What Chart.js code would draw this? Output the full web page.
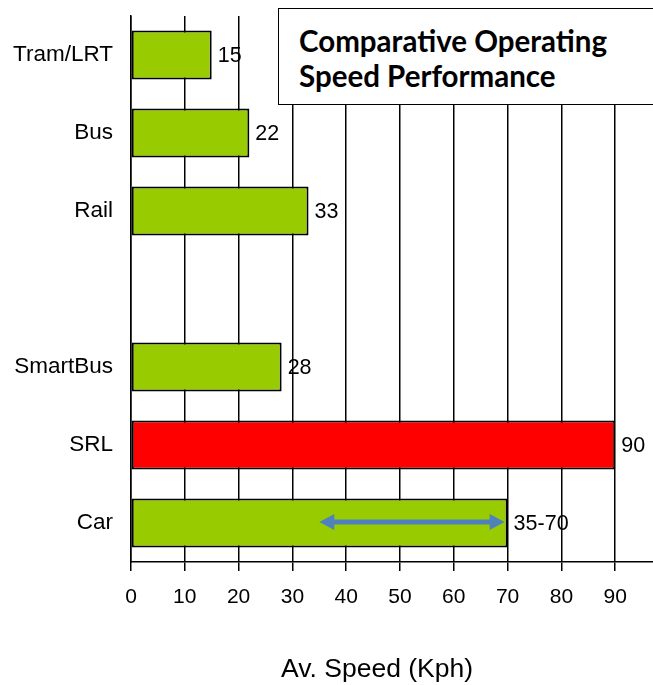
<!DOCTYPE html>
<html>
<head>
<meta charset="utf-8">
<script src="https://cdn.jsdelivr.net/npm/chart.js@4"></script>
<style>
  html, body { margin:0; padding:0; background:#fff; overflow:hidden; width:653px; height:685px; }
  #wrap { position:relative; width:670px; height:685px; }
  #c { position:absolute; left:0; top:0; }
  #titleBox {
    position:absolute; left:278px; top:8px; width:420px; height:97px;
    border:1.5px solid #000; background:#fff; box-sizing:border-box;
    font-family: Lato, "Open Sans", sans-serif; font-weight:bold; font-size:29.5px;
    line-height:35px; color:#000; padding:14px 0 0 20px;
  }
</style>
</head>
<body>
<div id="wrap">
  <canvas id="c" width="670" height="685"></canvas>
  <div id="titleBox">Comparative Operating<br>Speed Performance</div>
</div>
<script>
const categories = ["Tram/LRT", "Bus", "Rail", "", "SmartBus", "SRL", "Car"];
const speeds = [15, 22, 33, null, 28, 90, 70];
const valueLabels = ["15", "22", "33", "", "28", "90", "35-70"];
const barColors = ["#99CC00", "#99CC00", "#99CC00", "#99CC00", "#99CC00", "#FF0000", "#99CC00"];
const carRange = [35, 70];
const carIndex = 6;
const xTicks = [0, 10, 20, 30, 40, 50, 60, 70, 80, 90];
const axisTitle = "Av. Speed (Kph)";

const FONT = "'Liberation Sans', Arial, sans-serif";

const labelPlugin = {
  id: 'valueLabels',
  afterDatasetsDraw(chart) {
    const ctx = chart.ctx;
    const meta = chart.getDatasetMeta(0);
    ctx.save();
    ctx.font = "21.5px " + FONT;
    ctx.fillStyle = "#000";
    ctx.textAlign = "left";
    ctx.textBaseline = "middle";
    meta.data.forEach((bar, i) => {
      if (speeds[i] == null) return;
      ctx.fillText(valueLabels[i], bar.x + 6, bar.y + 1);
    });
    // range arrow on Car bar
    const xs = chart.scales.x;
    const y = meta.data[carIndex].y - 1;
    const x1 = xs.getPixelForValue(carRange[0]);
    const x2 = xs.getPixelForValue(carRange[1]) - 3;
    const head = 15, half = 8;
    ctx.fillStyle = "#4F81BD";
    ctx.strokeStyle = "#4F81BD";
    ctx.lineWidth = 5;
    ctx.beginPath();
    ctx.moveTo(x1 + head - 2, y);
    ctx.lineTo(x2 - head + 2, y);
    ctx.stroke();
    ctx.beginPath();
    ctx.moveTo(x1, y); ctx.lineTo(x1 + head, y - half); ctx.lineTo(x1 + head, y + half); ctx.closePath(); ctx.fill();
    ctx.beginPath();
    ctx.moveTo(x2, y); ctx.lineTo(x2 - head, y - half); ctx.lineTo(x2 - head, y + half); ctx.closePath(); ctx.fill();
    ctx.restore();
  },
  afterDraw(chart) {
    const ctx = chart.ctx;
    const xs = chart.scales.x;
    ctx.save();
    ctx.font = "26.5px " + FONT;
    ctx.fillStyle = "#000";
    ctx.textAlign = "center";
    ctx.textBaseline = "alphabetic";
    const cx = (xs.getPixelForValue(xTicks[0]) + xs.getPixelForValue(xTicks[xTicks.length - 1])) / 2 + 4;
    ctx.fillText(axisTitle, cx, 677);
    ctx.restore();
  }
};

new Chart(document.getElementById('c'), {
  type: 'bar',
  data: {
    labels: categories,
    datasets: [{
      data: speeds,
      backgroundColor: barColors,
      borderColor: "#000",
      borderWidth: 2,
      borderSkipped: false,
      categoryPercentage: 1,
      barPercentage: 0.63
    }]
  },
  options: {
    indexAxis: 'y',
    responsive: false,
    animation: false,
    events: [],
    layout: { padding: { top: 16, right: 1, left: 0, bottom: 0 } },
    plugins: { legend: { display: false }, tooltip: { enabled: false }, title: { display: false } },
    scales: {
      x: {
        min: 0, max: 100,
        afterBuildTicks(scale) { scale.ticks = xTicks.map(v => ({ value: v })); },
        afterFit(scale) { scale.height = 123; scale.paddingLeft = 0; scale.paddingRight = 0; },
        grid: { color: "#000", lineWidth: 1.5, drawTicks: true, tickLength: 9, tickColor: "#000" },
        border: { display: true, color: "#000", width: 1.5 },
        ticks: { color: "#000", font: { family: FONT, size: 21 }, padding: 14, maxRotation: 0 }
      },
      y: {
        afterFit(scale) { scale.width = 131; scale.paddingTop = 0; scale.paddingBottom = 0; },
        grid: { display: false, drawTicks: false },
        border: { display: true, color: "#000", width: 1.5 },
        ticks: { color: "#000", font: { family: FONT, size: 22.5 }, padding: 18 }
      }
    }
  },
  plugins: [labelPlugin]
});
</script>
</body>
</html>
